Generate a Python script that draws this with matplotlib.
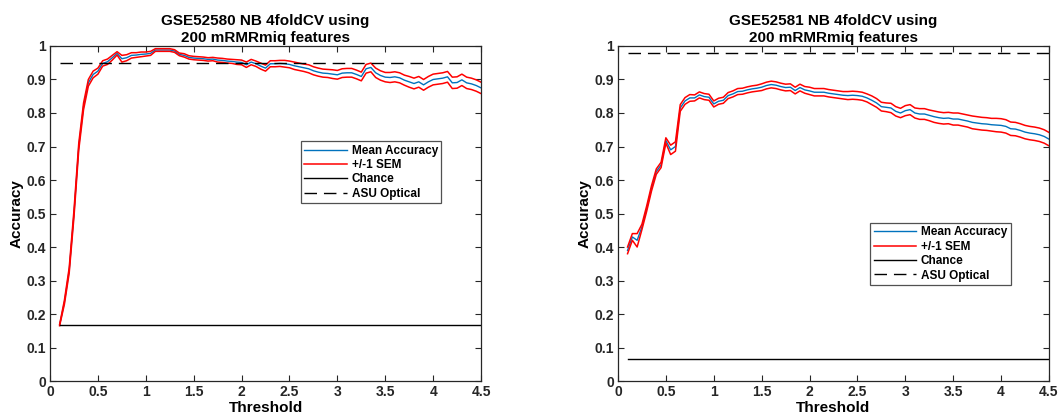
# -*- coding: UTF-8 -*-

"""NB 4foldCV accuracy vs threshold, two datasets side by side
"""

import matplotlib.pyplot as plt
import numpy as np

#+++++++++++++++++++++++++++++++++++++++++++++++++++++++++++++++++++++++++++++#

THRESHOLD = np.arange( 0.1, 4.5001, 0.05 )

TITLES = [ 'GSE52580 NB 4foldCV using\n200 mRMRmiq features',
           'GSE52581 NB 4foldCV using\n200 mRMRmiq features' ]

MEAN_580 = [
    0.167, 0.235, 0.330, 0.500, 0.700, 0.820, 0.890, 0.915, 0.925, 0.948,
    0.953, 0.965, 0.978, 0.962, 0.965, 0.972, 0.973, 0.975, 0.976, 0.978,
    0.988, 0.988, 0.988, 0.988, 0.985, 0.975, 0.972, 0.966, 0.964, 0.963,
    0.962, 0.960, 0.961, 0.958, 0.957, 0.955, 0.954, 0.952, 0.951, 0.944,
    0.952, 0.947, 0.940, 0.934, 0.947, 0.947, 0.948, 0.947, 0.945, 0.941,
    0.938, 0.935, 0.932, 0.926, 0.922, 0.919, 0.918, 0.916, 0.914, 0.919,
    0.920, 0.920, 0.915, 0.909, 0.932, 0.936, 0.920, 0.912, 0.907, 0.906,
    0.908, 0.905, 0.898, 0.893, 0.888, 0.893, 0.884, 0.893, 0.900, 0.902,
    0.904, 0.908, 0.890, 0.891, 0.899, 0.890, 0.887, 0.882, 0.875 ]

SEM_580 = [
    0.002, 0.006, 0.008, 0.010, 0.010, 0.010, 0.010, 0.010, 0.009, 0.008,
    0.008, 0.007, 0.005, 0.010, 0.009, 0.008, 0.007, 0.007, 0.006, 0.006,
    0.004, 0.004, 0.004, 0.004, 0.004, 0.004, 0.005, 0.005, 0.005, 0.005,
    0.005, 0.005, 0.005, 0.006, 0.006, 0.006, 0.006, 0.007, 0.007, 0.008,
    0.008, 0.008, 0.009, 0.009, 0.009, 0.009, 0.009, 0.010, 0.010, 0.011,
    0.011, 0.011, 0.012, 0.012, 0.012, 0.012, 0.012, 0.013, 0.013, 0.013,
    0.013, 0.013, 0.013, 0.013, 0.013, 0.013, 0.014, 0.014, 0.014, 0.015,
    0.015, 0.015, 0.015, 0.016, 0.016, 0.016, 0.016, 0.016, 0.016, 0.016,
    0.016, 0.016, 0.017, 0.017, 0.017, 0.017, 0.017, 0.017, 0.017 ]

MEAN_581 = [
    0.390, 0.430, 0.420, 0.460, 0.515, 0.575, 0.625, 0.645, 0.718, 0.690,
    0.700, 0.815, 0.836, 0.845, 0.845, 0.854, 0.849, 0.847, 0.827, 0.835,
    0.838, 0.852, 0.857, 0.864, 0.865, 0.869, 0.872, 0.874, 0.877, 0.882,
    0.885, 0.883, 0.879, 0.876, 0.877, 0.867, 0.876, 0.869, 0.866, 0.862,
    0.862, 0.862, 0.859, 0.857, 0.855, 0.853, 0.852, 0.853, 0.852, 0.850,
    0.845, 0.838, 0.830, 0.819, 0.817, 0.815, 0.805, 0.800, 0.807, 0.810,
    0.800, 0.797, 0.797, 0.793, 0.789, 0.786, 0.784, 0.785, 0.782, 0.782,
    0.779, 0.776, 0.772, 0.770, 0.768, 0.767, 0.765, 0.764, 0.763, 0.760,
    0.753, 0.752, 0.748, 0.743, 0.740, 0.738, 0.735, 0.730, 0.722 ]

SEM_581 = [
    0.010, 0.010, 0.020, 0.008, 0.008, 0.008, 0.008, 0.008, 0.008, 0.014,
    0.014, 0.010, 0.010, 0.010, 0.009, 0.009, 0.009, 0.009, 0.009, 0.009,
    0.009, 0.009, 0.009, 0.009, 0.009, 0.009, 0.009, 0.009, 0.010, 0.010,
    0.010, 0.010, 0.010, 0.010, 0.010, 0.010, 0.010, 0.010, 0.011, 0.011,
    0.011, 0.011, 0.011, 0.011, 0.011, 0.011, 0.012, 0.012, 0.012, 0.012,
    0.012, 0.013, 0.013, 0.013, 0.013, 0.014, 0.014, 0.014, 0.015, 0.015,
    0.015, 0.016, 0.016, 0.016, 0.017, 0.017, 0.017, 0.017, 0.018, 0.018,
    0.018, 0.018, 0.019, 0.019, 0.019, 0.019, 0.019, 0.020, 0.020, 0.020,
    0.020, 0.020, 0.020, 0.020, 0.020, 0.020, 0.020, 0.020, 0.020 ]

CHANCE = [ 1 / 6, 1 / 15 ]
ASU_OPTICAL = [ 0.95, 0.98 ]

LEGEND_ANCHOR = [ ( 0.582, 0.716 ), ( 0.585, 0.472 ) ]

#+++++++++++++++++++++++++++++++++++++++++++++++++++++++++++++++++++++++++++++#

plt.rcParams[ 'font.family' ] = [ 'Liberation Sans', 'DejaVu Sans' ]
plt.rcParams[ 'font.weight' ] = 'bold'

BLUE = '#0072BD'
DARK = '#262626'

fig = plt.figure( figsize = ( 10.6, 4.17 ), dpi = 100 )
axes = [ fig.add_axes( [ 0.0472, 0.0863, 0.4066, 0.8034 ] ),
         fig.add_axes( [ 0.5830, 0.0863, 0.4066, 0.8034 ] ) ]

means = [ np.array( MEAN_580 ), np.array( MEAN_581 ) ]
sems = [ np.array( SEM_580 ), np.array( SEM_581 ) ]

for i, ax in enumerate( axes ):
    mean, sem = means[ i ], sems[ i ]
    ax.plot( THRESHOLD, mean, color = BLUE, lw = 1.0, label = 'Mean Accuracy' )
    ax.plot( THRESHOLD, mean + sem, color = 'red', lw = 1.1, label = '+/-1 SEM' )
    ax.plot( THRESHOLD, mean - sem, color = 'red', lw = 1.1 )
    ax.plot( THRESHOLD, np.full_like( THRESHOLD, CHANCE[ i ] ), color = 'black',
             lw = 1.0, label = 'Chance' )
    ax.plot( THRESHOLD, np.full_like( THRESHOLD, ASU_OPTICAL[ i ] ), color = 'black',
             lw = 1.0, ls = ( 0, ( 9, 5 ) ), label = 'ASU Optical' )

    ax.set_xlim( 0, 4.5 )
    ax.set_ylim( 0, 1 )
    ax.set_xticks( np.arange( 0, 4.51, 0.5 ) )
    ax.set_xticklabels( [ '0', '0.5', '1', '1.5', '2', '2.5', '3', '3.5', '4', '4.5' ] )
    ax.set_yticks( np.arange( 0, 1.01, 0.1 ) )
    ax.set_yticklabels( [ '0', '0.1', '0.2', '0.3', '0.4', '0.5', '0.6', '0.7',
                          '0.8', '0.9', '1' ] )
    ax.tick_params( direction = 'in', top = True, right = True, length = 4,
                    width = 0.8, labelsize = 10, colors = DARK, pad = 3 )
    for s in ax.spines.values( ):
        s.set_color( DARK )
        s.set_linewidth( 0.9 )

    ax.set_title( TITLES[ i ], fontsize = 11, fontweight = 'bold', pad = 3,
                  linespacing = 1.25 )
    ax.set_xlabel( 'Threshold', fontsize = 11, fontweight = 'bold', labelpad = 1 )
    ax.set_ylabel( 'Accuracy', fontsize = 11, fontweight = 'bold', labelpad = 2 )

    leg = ax.legend( loc = 'upper left', bbox_to_anchor = LEGEND_ANCHOR[ i ],
                     borderaxespad = 0, fontsize = 8.5, frameon = True,
                     fancybox = False, edgecolor = DARK, handlelength = 3.6,
                     handletextpad = 0.4, labelspacing = 0.2, borderpad = 0.3 )
    leg.get_frame( ).set_linewidth( 0.9 )

fig.savefig( 'out.png', dpi = 100 )
